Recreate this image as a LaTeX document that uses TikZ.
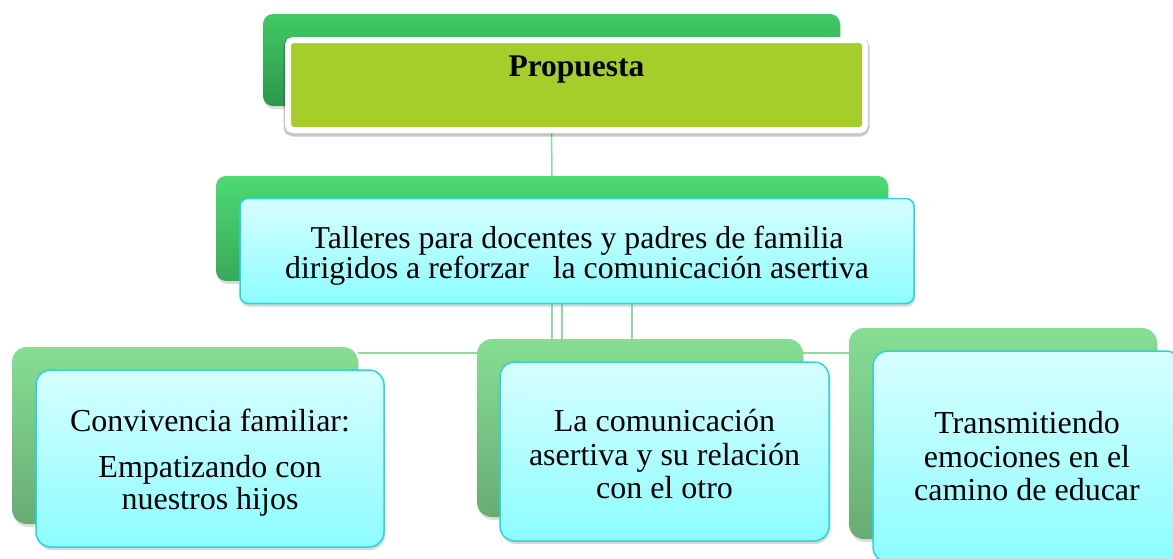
\documentclass[tikz,border=0pt]{standalone}
\usepackage{fontspec}
\setmainfont{Liberation Serif}
\usetikzlibrary{shadows, positioning}
\definecolor{propgreen}{RGB}{64,201,100}
\definecolor{propgreendk}{RGB}{44,152,74}
\definecolor{limefill}{RGB}{166,206,42}
\definecolor{tallgreen}{RGB}{76,218,114}
\definecolor{tallgreendk}{RGB}{56,170,88}
\definecolor{leafgreen}{RGB}{134,222,147}
\definecolor{leafgreendk}{RGB}{104,172,116}
\definecolor{cyantop}{RGB}{215,254,255}
\definecolor{cyanbot}{RGB}{140,253,255}
\definecolor{cyanedge}{RGB}{43,212,216}
\definecolor{linkgreen}{RGB}{140,220,160}
\pgfdeclarelayer{bg}
\pgfsetlayers{bg,main}

\begin{document}
\begin{tikzpicture}[x=1pt, y=-1pt,
    backbox/.style={rectangle, rounded corners=10pt, inner sep=0pt,
        drop shadow={opacity=0.25, shadow xshift=1pt, shadow yshift=-3pt}},
    limebox/.style={rectangle, rounded corners=5pt, draw=white, line width=6pt,
        fill=limefill, inner sep=0pt, align=center,
        font=\fontsize{31.5}{33}\selectfont\bfseries,
        preaction={draw=black, draw opacity=0.22, line width=9pt,
            transform canvas={yshift=-2pt}}},
    cyanbox/.style={rectangle, rounded corners=15pt, draw=cyanedge, line width=1.5pt,
        top color=cyantop, bottom color=cyanbot, inner sep=0pt, align=center,
        drop shadow={opacity=0.3, shadow xshift=1pt, shadow yshift=-3pt}},
    link/.style={draw=linkgreen, line width=1.5pt}
]
\useasboundingbox (0,0) rectangle (1173,558);
\clip (0,0) rectangle (1173,558);

% top level
\node[backbox, top color=propgreen, bottom color=propgreendk,
    minimum width=577pt, minimum height=92pt] (propback) at (551.5,60) {};
\node[limebox, minimum width=577pt, minimum height=90pt,
    text height=22pt, text depth=40pt] (prop) at (576.5,85) {Propuesta};

% second level
\node[backbox, top color=tallgreen, bottom color=tallgreendk,
    minimum width=672pt, minimum height=105pt] (tallback) at (552,228.5) {};
\node[cyanbox, rounded corners=8pt, minimum width=674pt, minimum height=105pt,
    font=\fontsize{31.8}{30.5}\selectfont] (talleres) at (577,251)
    {\rule{0pt}{32pt}Talleres para docentes y padres de familia\\dirigidos a reforzar \ \ la comunicación asertiva};

% third level
\node[backbox, rounded corners=15pt, top color=leafgreen, bottom color=leafgreendk,
    minimum width=346pt, minimum height=177pt] (convback) at (185,435.5) {};
\node[cyanbox, minimum width=348pt, minimum height=177pt,
    font=\fontsize{32}{31.5}\selectfont] (conv) at (210,458.5)
    {\rule{0pt}{30pt}Convivencia familiar:\\[15pt]Empatizando con\\nuestros hijos};

\node[backbox, rounded corners=15pt, top color=leafgreen, bottom color=leafgreendk,
    minimum width=326pt, minimum height=178pt] (comuback) at (640,428) {};
\node[cyanbox, minimum width=329pt, minimum height=179pt,
    font=\fontsize{32}{33.5}\selectfont] (comu) at (664.5,451.5)
    {\rule{0pt}{28pt}La comunicación\\asertiva y su relación\\con el otro};

\node[backbox, rounded corners=15pt, top color=leafgreen, bottom color=leafgreendk,
    minimum width=308pt, minimum height=211pt] (emoback) at (1003,433.5) {};
\node[cyanbox, minimum width=308pt, minimum height=211pt,
    font=\fontsize{32}{33.5}\selectfont] (emo) at (1027,456.5)
    {Transmitiendo\\emociones en el\\camino de educar};

% connectors
\coordinate (busL) at (convback.east |- 0,353);
\coordinate (busR) at (emoback.west |- 0,353);
\begin{pgfonlayer}{bg}
\draw[link] (propback.south |- prop.south) -- (tallback.north);
\draw[link] (tallback.south) -- (tallback.south |- busL);
\draw[link] ([xshift=10pt]tallback.south) -- ([xshift=10pt]tallback.south |- busL);
\draw[link] ([xshift=80pt]tallback.south) -- ([xshift=80pt]tallback.south |- busL);
\draw[link] (busL) -- (busR);
\end{pgfonlayer}
\end{tikzpicture}
\end{document}
